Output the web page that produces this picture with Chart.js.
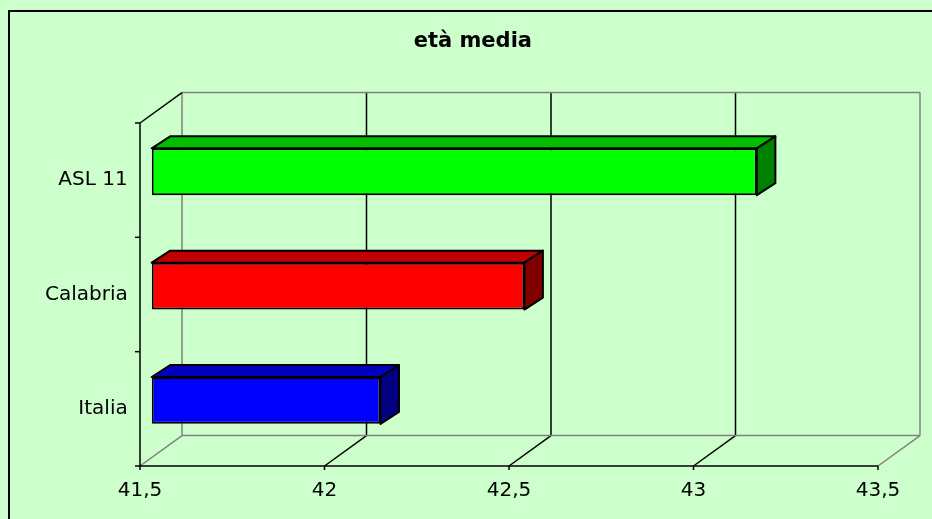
<!DOCTYPE html>
<html>
<head>
<meta charset="utf-8">
<title>età media</title>
<script src="https://cdn.jsdelivr.net/npm/chart.js@4"></script>
<style>
  html, body { margin: 0; padding: 0; background: #ccffcc; }
  #wrap { width: 932px; height: 519px; }
</style>
</head>
<body>
<div id="wrap"><canvas id="chart"></canvas></div>
<script>
const categories = ['ASL 11', 'Calabria', 'Italia'];
const etaMedia = [43.14, 42.51, 42.12];
const xTickValues = [41.5, 42, 42.5, 43, 43.5];

const frontColors = ['#00ff00', '#ff0000', '#0000ff'];
const topColors = ['#00bf00', '#bf0000', '#0000bf'];
const sideColors = ['#008000', '#800000', '#000080'];

// offsets of the 3D planes, relative to the plane where bars stand
const FRONT = { dx: -11.7, dy: 8.4 };
const BACK = { dx: 30.3, dy: -22 };
const BAR_DEPTH = { dx: 18.5, dy: -12 };

function line(ctx, x1, y1, x2, y2, color) {
  ctx.strokeStyle = color;
  ctx.beginPath();
  ctx.moveTo(x1, y1);
  ctx.lineTo(x2, y2);
  ctx.stroke();
}

const wall3d = {
  id: 'wall3d',
  afterLayout(chart) {
    // title in the reference is centred a bit right of the canvas middle
    if (chart.titleBlock) chart.titleBlock.left += 56;
  },
  beforeDraw(chart) {
    const ctx = chart.ctx;
    ctx.save();
    ctx.fillStyle = '#ccffcc';
    ctx.fillRect(0, 0, chart.width, chart.height);
    ctx.strokeStyle = '#000';
    ctx.lineWidth = 2;
    ctx.strokeRect(9, 11, chart.width + 20, chart.height + 20);
    ctx.restore();
  },
  beforeDatasetsDraw(chart) {
    const { ctx, chartArea: a, scales: { x } } = chart;
    const gray = '#808080';
    const ft = a.top + FRONT.dy, fb = a.bottom + FRONT.dy;
    const bt = a.top + BACK.dy, bb = a.bottom + BACK.dy;
    const vals = x.ticks.map(t => t.value);
    ctx.save();
    ctx.lineWidth = 1.5;
    vals.forEach((v, i) => {
      const px = x.getPixelForValue(v);
      const edge = i === 0 || i === vals.length - 1;
      const c = edge ? gray : '#000';
      // back wall vertical
      line(ctx, px + BACK.dx, bt, px + BACK.dx, bb, c);
      // floor diagonal
      line(ctx, px + FRONT.dx, fb, px + BACK.dx, bb, c);
      // tick on front axis
      line(ctx, px + FRONT.dx, fb, px + FRONT.dx, fb + 4, '#000');
    });
    const l = a.left, r = a.right;
    // back wall top and bottom
    line(ctx, l + BACK.dx, bt, r + BACK.dx, bt, gray);
    line(ctx, l + BACK.dx, bb, r + BACK.dx, bb, gray);
    // front axis
    line(ctx, l + FRONT.dx, fb, r + FRONT.dx, fb, '#000');
    // left axis and left wall top edge
    line(ctx, l + FRONT.dx, ft, l + FRONT.dx, fb, '#000');
    line(ctx, l + FRONT.dx, ft, l + BACK.dx, bt, '#000');
    const band = (fb - ft) / categories.length;
    for (let i = 0; i <= categories.length; i++) {
      const ty = ft + band * i;
      line(ctx, l + FRONT.dx - 5, ty, l + FRONT.dx, ty, '#000');
    }
    ctx.restore();
  },
  afterDatasetsDraw(chart) {
    const ctx = chart.ctx;
    const meta = chart.getDatasetMeta(0);
    ctx.save();
    ctx.lineWidth = 2;
    ctx.strokeStyle = '#000';
    ctx.lineJoin = 'round';
    meta.data.forEach((bar, i) => {
      const { x, y, base, height } = bar.getProps(['x', 'y', 'base', 'height'], true);
      const t = y - height / 2, b = y + height / 2;
      const { dx, dy } = BAR_DEPTH;
      ctx.fillStyle = topColors[i];
      ctx.beginPath();
      ctx.moveTo(base, t);
      ctx.lineTo(base + dx, t + dy);
      ctx.lineTo(x + dx, t + dy);
      ctx.lineTo(x, t);
      ctx.closePath();
      ctx.fill();
      ctx.stroke();
      ctx.fillStyle = sideColors[i];
      ctx.beginPath();
      ctx.moveTo(x, t);
      ctx.lineTo(x + dx, t + dy);
      ctx.lineTo(x + dx, b + dy);
      ctx.lineTo(x, b);
      ctx.closePath();
      ctx.fill();
      ctx.stroke();
    });
    ctx.restore();
  }
};

Chart.defaults.font.family = '"DejaVu Sans", Arial, sans-serif';
Chart.defaults.color = '#000';

new Chart(document.getElementById('chart'), {
  type: 'bar',
  data: {
    labels: categories,
    datasets: [{
      label: 'età media',
      data: etaMedia,
      base: xTickValues[0],
      backgroundColor: frontColors,
      borderColor: '#000',
      borderWidth: 2,
      borderSkipped: false,
      barPercentage: 0.41,
      categoryPercentage: 1
    }]
  },
  options: {
    indexAxis: 'y',
    responsive: true,
    maintainAspectRatio: false,
    animation: false,
    layout: { padding: { left: 0, right: 42.3, top: 0, bottom: 0 } },
    plugins: {
      legend: { display: false },
      tooltip: { enabled: false },
      title: {
        display: true,
        text: 'età media',
        color: '#000',
        font: { size: 21, weight: 'bold' },
        padding: { top: 29.2, bottom: 60.2 }
      }
    },
    scales: {
      x: {
        min: xTickValues[0],
        max: xTickValues[xTickValues.length - 1],
        beginAtZero: false,
        grid: { display: false },
        border: { display: false },
        afterBuildTicks: axis => { axis.ticks = xTickValues.map(v => ({ value: v })); },
        afterFit: axis => { axis.height = 61.4; },
        ticks: {
          font: { size: 20 },
          padding: 13.5,
          labelOffset: FRONT.dx,
          maxRotation: 0,
          callback: v => String(v).replace('.', ',')
        }
      },
      y: {
        grid: { display: false },
        border: { display: false },
        afterFit: axis => { axis.width = 151.7; },
        ticks: {
          font: { size: 20 },
          padding: 16,
          labelOffset: FRONT.dy
        }
      }
    }
  },
  plugins: [wall3d]
});
</script>
</body>
</html>
